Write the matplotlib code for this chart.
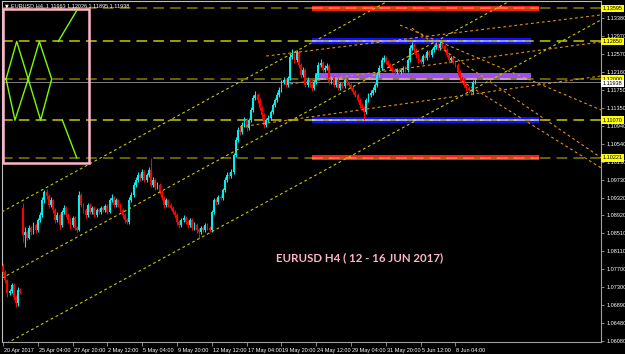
import numpy as np
import matplotlib.pyplot as plt
import matplotlib.transforms as mtransforms
from matplotlib.patches import Rectangle

# EURUSD H4 bars, 20 Apr 2017 12:00 -> 9 Jun 2017 20:00
closes = [
    1.0764, 1.0746, 1.0717, 1.0721, 1.0735, 1.0707, 1.0694, 1.0723, 1.0719, 1.0848,
    1.0854, 1.0841, 1.0863, 1.0854, 1.0870, 1.0859, 1.0881, 1.0893, 1.0927, 1.0945,
    1.0936, 1.0915, 1.0927, 1.0904, 1.0881, 1.0893, 1.0870, 1.0900, 1.0909, 1.0893,
    1.0881, 1.0870, 1.0886, 1.0863, 1.0859, 1.0938, 1.0915, 1.0904, 1.0893, 1.0915,
    1.0900, 1.0909, 1.0893, 1.0904, 1.0900, 1.0909, 1.0904, 1.0913, 1.0900, 1.0927,
    1.0931, 1.0915, 1.0927, 1.0915, 1.0904, 1.0893, 1.0881, 1.0877, 1.0927, 1.0938,
    1.0961, 1.0972, 1.0983, 1.0976, 1.0990, 1.0972, 1.0983, 1.0995, 1.0961, 1.0972,
    1.0956, 1.0961, 1.0945, 1.0931, 1.0915, 1.0927, 1.0915, 1.0909, 1.0900, 1.0893,
    1.0877, 1.0870, 1.0881, 1.0886, 1.0877, 1.0870, 1.0881, 1.0863, 1.0870, 1.0859,
    1.0854, 1.0863, 1.0859, 1.0870, 1.0863, 1.0859, 1.0900, 1.0927, 1.0922, 1.0934,
    1.0931, 1.0949, 1.0972, 1.0983, 1.0981, 1.0990, 1.1028, 1.1062, 1.1085, 1.1080,
    1.1096, 1.1108, 1.1089, 1.1108, 1.1130, 1.1157, 1.1164, 1.1153, 1.1135, 1.1119,
    1.1096, 1.1108, 1.1112, 1.1126, 1.1141, 1.1153, 1.1164, 1.1175, 1.1193, 1.1198,
    1.1187, 1.1202, 1.1250, 1.1254, 1.1243, 1.1261, 1.1232, 1.1209, 1.1221, 1.1187,
    1.1198, 1.1187, 1.1180, 1.1193, 1.1209, 1.1232, 1.1236, 1.1221, 1.1225, 1.1230,
    1.1193, 1.1202, 1.1187, 1.1198, 1.1180, 1.1189, 1.1184, 1.1198, 1.1191, 1.1187,
    1.1180, 1.1171, 1.1164, 1.1153, 1.1141, 1.1135, 1.1126, 1.1153, 1.1164, 1.1169,
    1.1175, 1.1187, 1.1209, 1.1225, 1.1243, 1.1248, 1.1239, 1.1232, 1.1225, 1.1221,
    1.1216, 1.1221, 1.1216, 1.1221, 1.1225, 1.1221, 1.1243, 1.1270, 1.1277, 1.1266,
    1.1254, 1.1243, 1.1239, 1.1252, 1.1248, 1.1261, 1.1254, 1.1266, 1.1272, 1.1277,
    1.1270, 1.1279, 1.1275, 1.1266, 1.1254, 1.1243, 1.1248, 1.1239, 1.1232, 1.1216,
    1.1202, 1.1198, 1.1187, 1.1180, 1.1175, 1.1171, 1.1193, 1.1194,
]
highs = [
    1.0785, 1.0768, 1.0748, 1.0726, 1.0740, 1.0738, 1.0712, 1.0730, 1.0727, 1.0920,
    1.0866, 1.0860, 1.0870, 1.0868, 1.0876, 1.0875, 1.0886, 1.0899, 1.0933, 1.0950,
    1.0951, 1.0940, 1.0933, 1.0930, 1.0908, 1.0899, 1.0897, 1.0905, 1.0915, 1.0913,
    1.0897, 1.0885, 1.0891, 1.0890, 1.0868, 1.0946, 1.0942, 1.0920, 1.0909, 1.0921,
    1.0919, 1.0914, 1.0913, 1.0909, 1.0908, 1.0914, 1.0913, 1.0918, 1.0917, 1.0932,
    1.0941, 1.0935, 1.0932, 1.0930, 1.0919, 1.0908, 1.0897, 1.0886, 1.0933, 1.0944,
    1.0967, 1.0978, 1.0990, 1.0988, 1.0996, 1.0994, 1.0988, 1.1002, 1.1022, 1.0978,
    1.0976, 1.0967, 1.0965, 1.0949, 1.0935, 1.0932, 1.0930, 1.0919, 1.0913, 1.0904,
    1.0897, 1.0881, 1.0886, 1.0892, 1.0890, 1.0881, 1.0887, 1.0885, 1.0876, 1.0874,
    1.0864, 1.0868, 1.0868, 1.0875, 1.0874, 1.0867, 1.0905, 1.0932, 1.0932, 1.0939,
    1.0940, 1.0954, 1.0978, 1.0989, 1.0990, 1.0996, 1.1034, 1.1068, 1.1091, 1.1094,
    1.1102, 1.1115, 1.1112, 1.1113, 1.1136, 1.1163, 1.1172, 1.1168, 1.1157, 1.1139,
    1.1123, 1.1113, 1.1118, 1.1131, 1.1146, 1.1158, 1.1170, 1.1181, 1.1198, 1.1205,
    1.1202, 1.1207, 1.1256, 1.1268, 1.1259, 1.1266, 1.1264, 1.1236, 1.1227, 1.1225,
    1.1204, 1.1203, 1.1192, 1.1198, 1.1214, 1.1238, 1.1245, 1.1240, 1.1231, 1.1236,
    1.1234, 1.1208, 1.1206, 1.1203, 1.1202, 1.1194, 1.1193, 1.1203, 1.1202, 1.1196,
    1.1191, 1.1184, 1.1175, 1.1168, 1.1157, 1.1146, 1.1139, 1.1158, 1.1169, 1.1175,
    1.1181, 1.1192, 1.1215, 1.1231, 1.1249, 1.1254, 1.1252, 1.1243, 1.1236, 1.1229,
    1.1225, 1.1226, 1.1225, 1.1226, 1.1230, 1.1229, 1.1248, 1.1276, 1.1284, 1.1281,
    1.1270, 1.1258, 1.1248, 1.1257, 1.1257, 1.1266, 1.1265, 1.1271, 1.1278, 1.1283,
    1.1281, 1.1285, 1.1283, 1.1279, 1.1270, 1.1258, 1.1253, 1.1252, 1.1243, 1.1236,
    1.1220, 1.1207, 1.1202, 1.1191, 1.1185, 1.1179, 1.1198, 1.1201,
]
lows = [
    1.0758, 1.0740, 1.0708, 1.0712, 1.0716, 1.0700, 1.0684, 1.0688, 1.0714, 1.0832,
    1.0821, 1.0836, 1.0838, 1.0848, 1.0850, 1.0852, 1.0855, 1.0876, 1.0889, 1.0921,
    1.0930, 1.0908, 1.0911, 1.0898, 1.0874, 1.0877, 1.0862, 1.0866, 1.0895, 1.0888,
    1.0875, 1.0862, 1.0866, 1.0858, 1.0854, 1.0856, 1.0910, 1.0898, 1.0887, 1.0889,
    1.0895, 1.0896, 1.0888, 1.0889, 1.0895, 1.0896, 1.0899, 1.0900, 1.0895, 1.0897,
    1.0922, 1.0910, 1.0911, 1.0910, 1.0899, 1.0887, 1.0875, 1.0872, 1.0873, 1.0922,
    1.0934, 1.0956, 1.0967, 1.0970, 1.0971, 1.0967, 1.0968, 1.0979, 1.0956, 1.0956,
    1.0950, 1.0951, 1.0940, 1.0926, 1.0909, 1.0911, 1.0910, 1.0903, 1.0894, 1.0887,
    1.0871, 1.0864, 1.0866, 1.0877, 1.0872, 1.0864, 1.0866, 1.0858, 1.0858, 1.0853,
    1.0841, 1.0849, 1.0854, 1.0855, 1.0858, 1.0854, 1.0855, 1.0896, 1.0916, 1.0917,
    1.0926, 1.0927, 1.0945, 1.0967, 1.0975, 1.0976, 1.0986, 1.1024, 1.1058, 1.1074,
    1.1076, 1.1091, 1.1083, 1.1085, 1.1104, 1.1126, 1.1152, 1.1147, 1.1129, 1.1113,
    1.1090, 1.1092, 1.1103, 1.1108, 1.1122, 1.1137, 1.1148, 1.1160, 1.1171, 1.1188,
    1.1181, 1.1182, 1.1197, 1.1245, 1.1237, 1.1238, 1.1226, 1.1203, 1.1204, 1.1181,
    1.1182, 1.1182, 1.1174, 1.1176, 1.1189, 1.1205, 1.1227, 1.1216, 1.1216, 1.1220,
    1.1188, 1.1188, 1.1182, 1.1183, 1.1175, 1.1176, 1.1179, 1.1180, 1.1186, 1.1182,
    1.1175, 1.1166, 1.1159, 1.1148, 1.1135, 1.1129, 1.1108, 1.1122, 1.1149, 1.1159,
    1.1164, 1.1171, 1.1183, 1.1205, 1.1221, 1.1238, 1.1234, 1.1227, 1.1220, 1.1216,
    1.1211, 1.1212, 1.1212, 1.1212, 1.1217, 1.1216, 1.1217, 1.1239, 1.1265, 1.1260,
    1.1248, 1.1237, 1.1233, 1.1235, 1.1243, 1.1244, 1.1249, 1.1250, 1.1262, 1.1268,
    1.1265, 1.1266, 1.1270, 1.1261, 1.1249, 1.1237, 1.1238, 1.1234, 1.1227, 1.1210,
    1.1196, 1.1192, 1.1181, 1.1174, 1.1169, 1.1165, 1.1167, 1.1188,
]
first_open = 1.0778
gap_bar = 9          # monday gap after french election
gap_open = 1.0909

date_labels = ['20 Apr 2017', '25 Apr 04:00', '27 Apr 20:00', '2 May 12:00', '5 May 04:00',
               '9 May 20:00', '12 May 12:00', '17 May 04:00', '19 May 20:00', '24 May 12:00',
               '29 May 04:00', '31 May 20:00', '5 Jun 12:00', '8 Jun 04:00']
price_ticks = [1.13380, 1.12970, 1.12570, 1.12160, 1.11750, 1.11350, 1.10940, 1.10540, 1.10130,
               1.09730, 1.09320, 1.08920, 1.08510, 1.08110, 1.07700, 1.07300, 1.06890, 1.06480,
               1.06080]

# horizontal levels
levels = [1.13595, 1.12850, 1.12000, 1.11070, 1.10221]
level_colors = ['#808000', '#c8c800', '#808000', '#c8c800', '#808000']
last_price = 1.11938

# zones: (start bar, end bar, low, high, colour, dash colour)
zones = [
    (142, 246.4, 1.1354, 1.1364, '#ff1a1a', '#ff8a50'),
    (142, 242.8, 1.1279, 1.1293, '#1010ff', '#b8b8e0'),
    (143.4, 242.8, 1.1199, 1.1214, '#9a4ff0', '#e0b0a8'),
    (142, 246.4, 1.1101, 1.1114, '#1010ff', '#d8d880'),
    (142, 246.4, 1.1017, 1.1029, '#ff1a1a', '#ff8a50'),
]

# trend lines as rays: (bar0, price0, bar1, price1, colour)
trend_lines = [
    (-0.5, 1.0900, 178, 1.1379, '#c8c800'),
    (-0.5, 1.0750, 234, 1.1379, '#c8c800'),
    (-0.5, 1.0597, 275, 1.1334, '#c8c800'),
    (121, 1.1252, 275, 1.1345, '#e0901a'),
    (132, 1.1189, 275, 1.1284, '#e0901a'),
    (109, 1.1092, 275, 1.1207, '#e0901a'),
    (188, 1.1315, 275, 1.1022, '#e0901a'),
    (208.7, 1.1202, 275, 1.0999, '#e0901a'),
    (182.5, 1.1322, 275, 1.1130, '#e0901a'),
]

# harmonic drawing in the pink box
box = (-0.1, 39.7, 1.1010, 1.1358)
pattern_top = [(33.9, 1.1355), (25.4, 1.1285)]
pattern_mid = [(1.4, 1.1200), (6.3, 1.1285), (11.6, 1.1200), (16.7, 1.1285), (22.4, 1.1200),
               (17.3, 1.1107), (11.6, 1.1200), (5.5, 1.1107), (1.4, 1.1200)]
pattern_bot = [(27.3, 1.1107), (33.9, 1.1022)]

header = 'EURUSD,H4  1.11963 1.12026 1.11895 1.11938'
title = 'EURUSD H4 ( 12 - 16 JUN 2017)'

small_font = ['Liberation Sans Narrow', 'DejaVu Sans Condensed', 'Liberation Sans']

fig = plt.figure(figsize=(6.25, 3.54), dpi=100, facecolor='black')
ax = fig.add_axes([2/625, 12/354, 599/625, 341/354])
ax.set_facecolor('black')
xmin, xmax = -0.46, 274.9
ax.set_xlim(xmin, xmax)
ax.set_ylim(1.06058, 1.13764)

n = len(closes)
idx = np.arange(n)
opens = [first_open] + closes[:-1]
opens[gap_bar] = gap_open
o = np.array(opens)
c = np.array(closes)
up = c >= o
cols = np.where(up, '#00f0f0', '#ff0000')

# zones (background)
for x0, x1, lo, hi, col, dcol in zones:
    ax.add_patch(Rectangle((x0, lo), x1 - x0, hi - lo, facecolor=col, edgecolor='none', zorder=1))

# levels
for lev, col in zip(levels, level_colors):
    ax.plot([xmin, xmax], [lev, lev], color=col, lw=1.1, ls=(0, (7, 4)), zorder=2)
for (x0, x1, lo, hi, col, dcol), lev in zip(zones, levels):
    ax.plot([x0, x1], [lev, lev], color=dcol, lw=1.1, ls=(0, (7, 4)), zorder=2.5)

ax.axhline(last_price, color='#808080', lw=0.7, zorder=2)

# candles
ax.vlines(idx, lows, highs, colors=cols, lw=0.8, zorder=3)
body_lo = np.minimum(o, c)
body_h = np.maximum(np.abs(c - o), 0.00008)
ax.bar(idx, body_h, bottom=body_lo, width=0.85, color=cols, linewidth=0, zorder=3)

# trend lines
for x0, p0, x1, p1, col in trend_lines:
    slope = (p1 - p0) / (x1 - x0)
    ax.plot([x0, xmax], [p0, p0 + slope * (xmax - x0)], color=col, lw=0.8,
            ls=(0, (2.5, 2.5)), zorder=4)

# pink box + pattern
bx0, bx1, by0, by1 = box
ax.add_patch(Rectangle((bx0, by0), bx1 - bx0, by1 - by0, facecolor='none',
                       edgecolor='#ffb6c8', lw=1.8, zorder=5))
for pts in (pattern_top, pattern_mid, pattern_bot):
    xs, ys = zip(*pts)
    ax.plot(xs, ys, color='#7cfc00', lw=1.0, zorder=5)

# axes styling
for s in ['left', 'top']:
    ax.spines[s].set_color('#c0c0c0')
for s in ['right', 'bottom']:
    ax.spines[s].set_color('#a0a0a0')
for s in ax.spines.values():
    s.set_linewidth(0.8)

ax.yaxis.tick_right()
ax.set_yticks(price_ticks)
ax.set_yticklabels(['%.5f' % p for p in price_ticks], fontsize=4.0, color='white',
                   family=small_font)
ax.tick_params(axis='y', length=2.5, width=0.6, color='#a0a0a0', pad=1.2)

ax.set_xticks(np.arange(len(date_labels)) * 16)
ax.set_xticklabels(date_labels, fontsize=4.0, color='white', family=small_font)
ax.tick_params(axis='x', length=3, width=0.6, color='#a0a0a0', pad=1.5)
offset = mtransforms.ScaledTranslation(1.0/100, 0, fig.dpi_scale_trans)
for lab in ax.get_xticklabels():
    lab.set_ha('left')
    lab.set_transform(lab.get_transform() + offset)

# level price boxes on the axis
ytr = mtransforms.blended_transform_factory(ax.transAxes, ax.transData)
for lev in levels:
    ax.text(1.003, lev, '%.5f' % lev, transform=ytr, fontsize=4.0, color='black',
            family=small_font, va='center', ha='left', clip_on=False, zorder=6,
            bbox=dict(boxstyle='square,pad=0.25', facecolor='#ffff00', edgecolor='none'))
ax.text(1.003, last_price - 0.0004, '%.5f' % last_price, transform=ytr, fontsize=4.0,
        color='black', family=small_font, va='center', ha='left', clip_on=False,
        zorder=6, bbox=dict(boxstyle='square,pad=0.25', facecolor='white', edgecolor='none'))

fig.text(5/625, 1 - 6/354, '\u25bc', fontsize=3.5, color='white', va='center', ha='left')
fig.text(11/625, 1 - 6/354, header, fontsize=4.0, color='white', va='center', ha='left',
         family=small_font)

ax.text(163.7, 1.0796, title, fontsize=8.3, color='#ffb6c8', fontweight='bold',
        family='Lato', ha='center', va='center', zorder=6)

fig.savefig('out.png', dpi=100, facecolor='black')
